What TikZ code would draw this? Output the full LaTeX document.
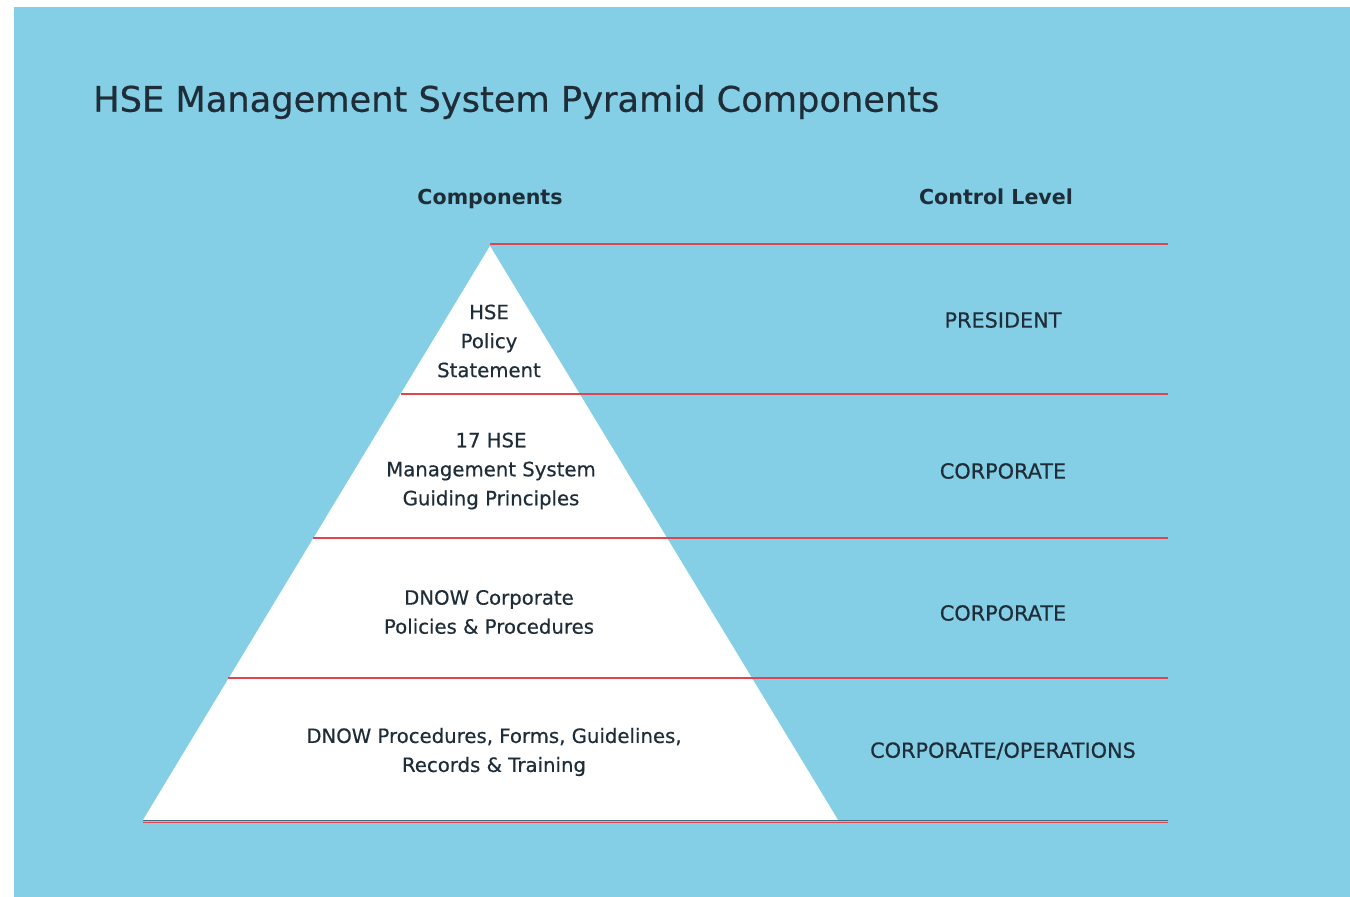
\documentclass[tikz,border=0pt]{standalone}
\usepackage{fontspec}
\setmainfont{DejaVu Sans}
\newfontfamily\medfont[FakeBold=0.5]{DejaVu Sans}
\definecolor{bgblue}{HTML}{84CFE5}
\definecolor{inkdark}{HTML}{1F2D38}
\definecolor{rule}{HTML}{E0454F}
\definecolor{baseline}{HTML}{3C6F86}
\begin{document}
\begin{tikzpicture}[x=1pt,y=-1pt,
  redrule/.style={draw=rule,line width=1.3pt},
  comptext/.style={text=inkdark,font=\medfont\fontsize{19.7}{29}\selectfont,align=center,inner sep=0pt},
  leveltext/.style={text=inkdark,font=\medfont\fontsize{20.8}{24}\selectfont,inner sep=0pt},
  headtext/.style={text=inkdark,font=\bfseries\fontsize{20.6}{25}\selectfont,inner sep=0pt},
  titletext/.style={text=inkdark,font=\medfont\fontsize{35.2}{42}\selectfont,inner sep=0pt}]
\useasboundingbox (0,0) rectangle (1350,897);
\fill[white] (0,0) rectangle (1350,897);
\fill[bgblue] (14,7) rectangle (1350,897);
% title
\node[titletext,anchor=west] (title) at (93,102) {HSE Management System Pyramid Components};
\node[headtext] (hcomp) at (490,199) {Components};
\node[headtext] (hlevel) at (996,197) {Control Level};
% pyramid
\coordinate (apex) at (490,246);
\coordinate (bl) at (143,820);
\coordinate (br) at (838,820);
\fill[white] (apex) -- (bl) -- (br) -- cycle;
% rules
\coordinate (r0a) at (490,244); \coordinate (r0b) at (1168,244);
\coordinate (r1a) at (401,394); \coordinate (r1b) at (1168,394);
\coordinate (r2a) at (313,538); \coordinate (r2b) at (1168,538);
\coordinate (r3a) at (228,678); \coordinate (r3b) at (1168,678);
\coordinate (r4a) at (143,822); \coordinate (r4b) at (1168,822);
\coordinate (b4a) at (143,820.3); \coordinate (b4b) at (1168,820.3);
\draw[redrule] (r0a) -- (r0b);
\draw[redrule] (r1a) -- (r1b);
\draw[redrule] (r2a) -- (r2b);
\draw[redrule] (r3a) -- (r3b);
\draw[draw=baseline,line width=1pt] (b4a) -- (b4b);
\draw[redrule,line width=1pt] (r4a) -- (r4b);
% component texts
\node[comptext] (c1) at (489,341) {HSE\\Policy\\Statement};
\node[comptext] (c2) at (491,471) {17 HSE\\Management System\\Guiding Principles};
\node[comptext] (c3) at (489,612) {DNOW Corporate\\Policies \& Procedures};
\node[comptext] (c4) at (494,752) {DNOW Procedures, Forms, Guidelines,\\Records \& Training};
% level texts
\node[leveltext] (l1) at (1003,320) {PRESIDENT};
\node[leveltext] (l2) at (1003,471) {CORPORATE};
\node[leveltext] (l3) at (1003,613) {CORPORATE};
\node[leveltext] (l4) at (1003,751) {CORPORATE/OPERATIONS};
\end{tikzpicture}
\end{document}
